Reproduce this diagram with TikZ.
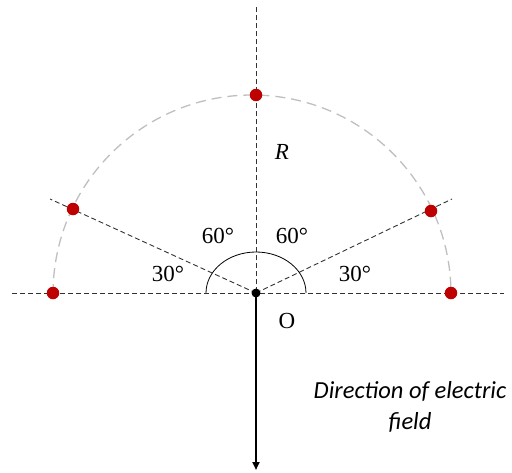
\documentclass[tikz,border=0pt]{standalone}
\usepackage{fontspec}
\setmainfont{Liberation Serif}
\newfontfamily\calib{Carlito}
\usetikzlibrary{arrows.meta}
\begin{document}
\begin{tikzpicture}[x=1pt,y=-1pt,
  axis/.style={draw=black!80,line width=0.9pt,dash pattern=on 5pt off 3pt},
  circ/.style={draw=black!25,line width=1.3pt,dash pattern=on 10pt off 6pt},
  reddot/.style={circle,fill=red!75!black,inner sep=0pt,minimum size=12.5pt},
  lab/.style={font=\fontsize{23}{27}\selectfont,inner sep=0pt}]
\useasboundingbox (0,0) rectangle (512,472);
% axes
\coordinate (Hl) at (12,293);
\coordinate (Hr) at (504,293);
\coordinate (Vt) at (256,7);
\coordinate (Ll) at (50,199);
\coordinate (Lr) at (452,199);
\coordinate (Oc) at (256,293);
\draw[axis] (Hl) -- (Hr);
\draw[axis] (Vt) -- (Oc);
\draw[axis] (Oc) -- (Ll);
\draw[axis] (Oc) -- (Lr);
% big dashed arc
\draw[circ] (53,294) arc[start angle=180,end angle=360,radius=199];
% small angle arc
\draw[line width=0.8pt] (306,293) arc[start angle=0,end angle=-180,x radius=50,y radius=41];
% arrow
\coordinate (Ab) at (256,470);
\draw[line width=2pt,-{Triangle[length=8pt,width=7pt]}] (Oc) -- (Ab);
% dots
\node[reddot] (pL) at (53,293) {};
\node[reddot] (pUL) at (73,209) {};
\node[reddot] (pT) at (256,95) {};
\node[reddot] (pUR) at (431,211) {};
\node[reddot] (pR) at (451,293) {};
\node[circle,fill=black,inner sep=0pt,minimum size=9pt] (O) at (Oc) {};
% labels
\node[lab] (a60l) at (218,236) {60°};
\node[lab] (a60r) at (292,236) {60°};
\node[lab] (a30l) at (168,274) {30°};
\node[lab] (a30r) at (355,274) {30°};
\node[lab] (lR) at (282,152) {\itshape R};
\node[lab] (lO) at (287,321) {O};
\node[inner sep=0pt,align=center,font=\calib\itshape\fontsize{24.5}{31}\selectfont] (txt) at (410,407) {Direction of electric\\field};
\end{tikzpicture}
\end{document}
